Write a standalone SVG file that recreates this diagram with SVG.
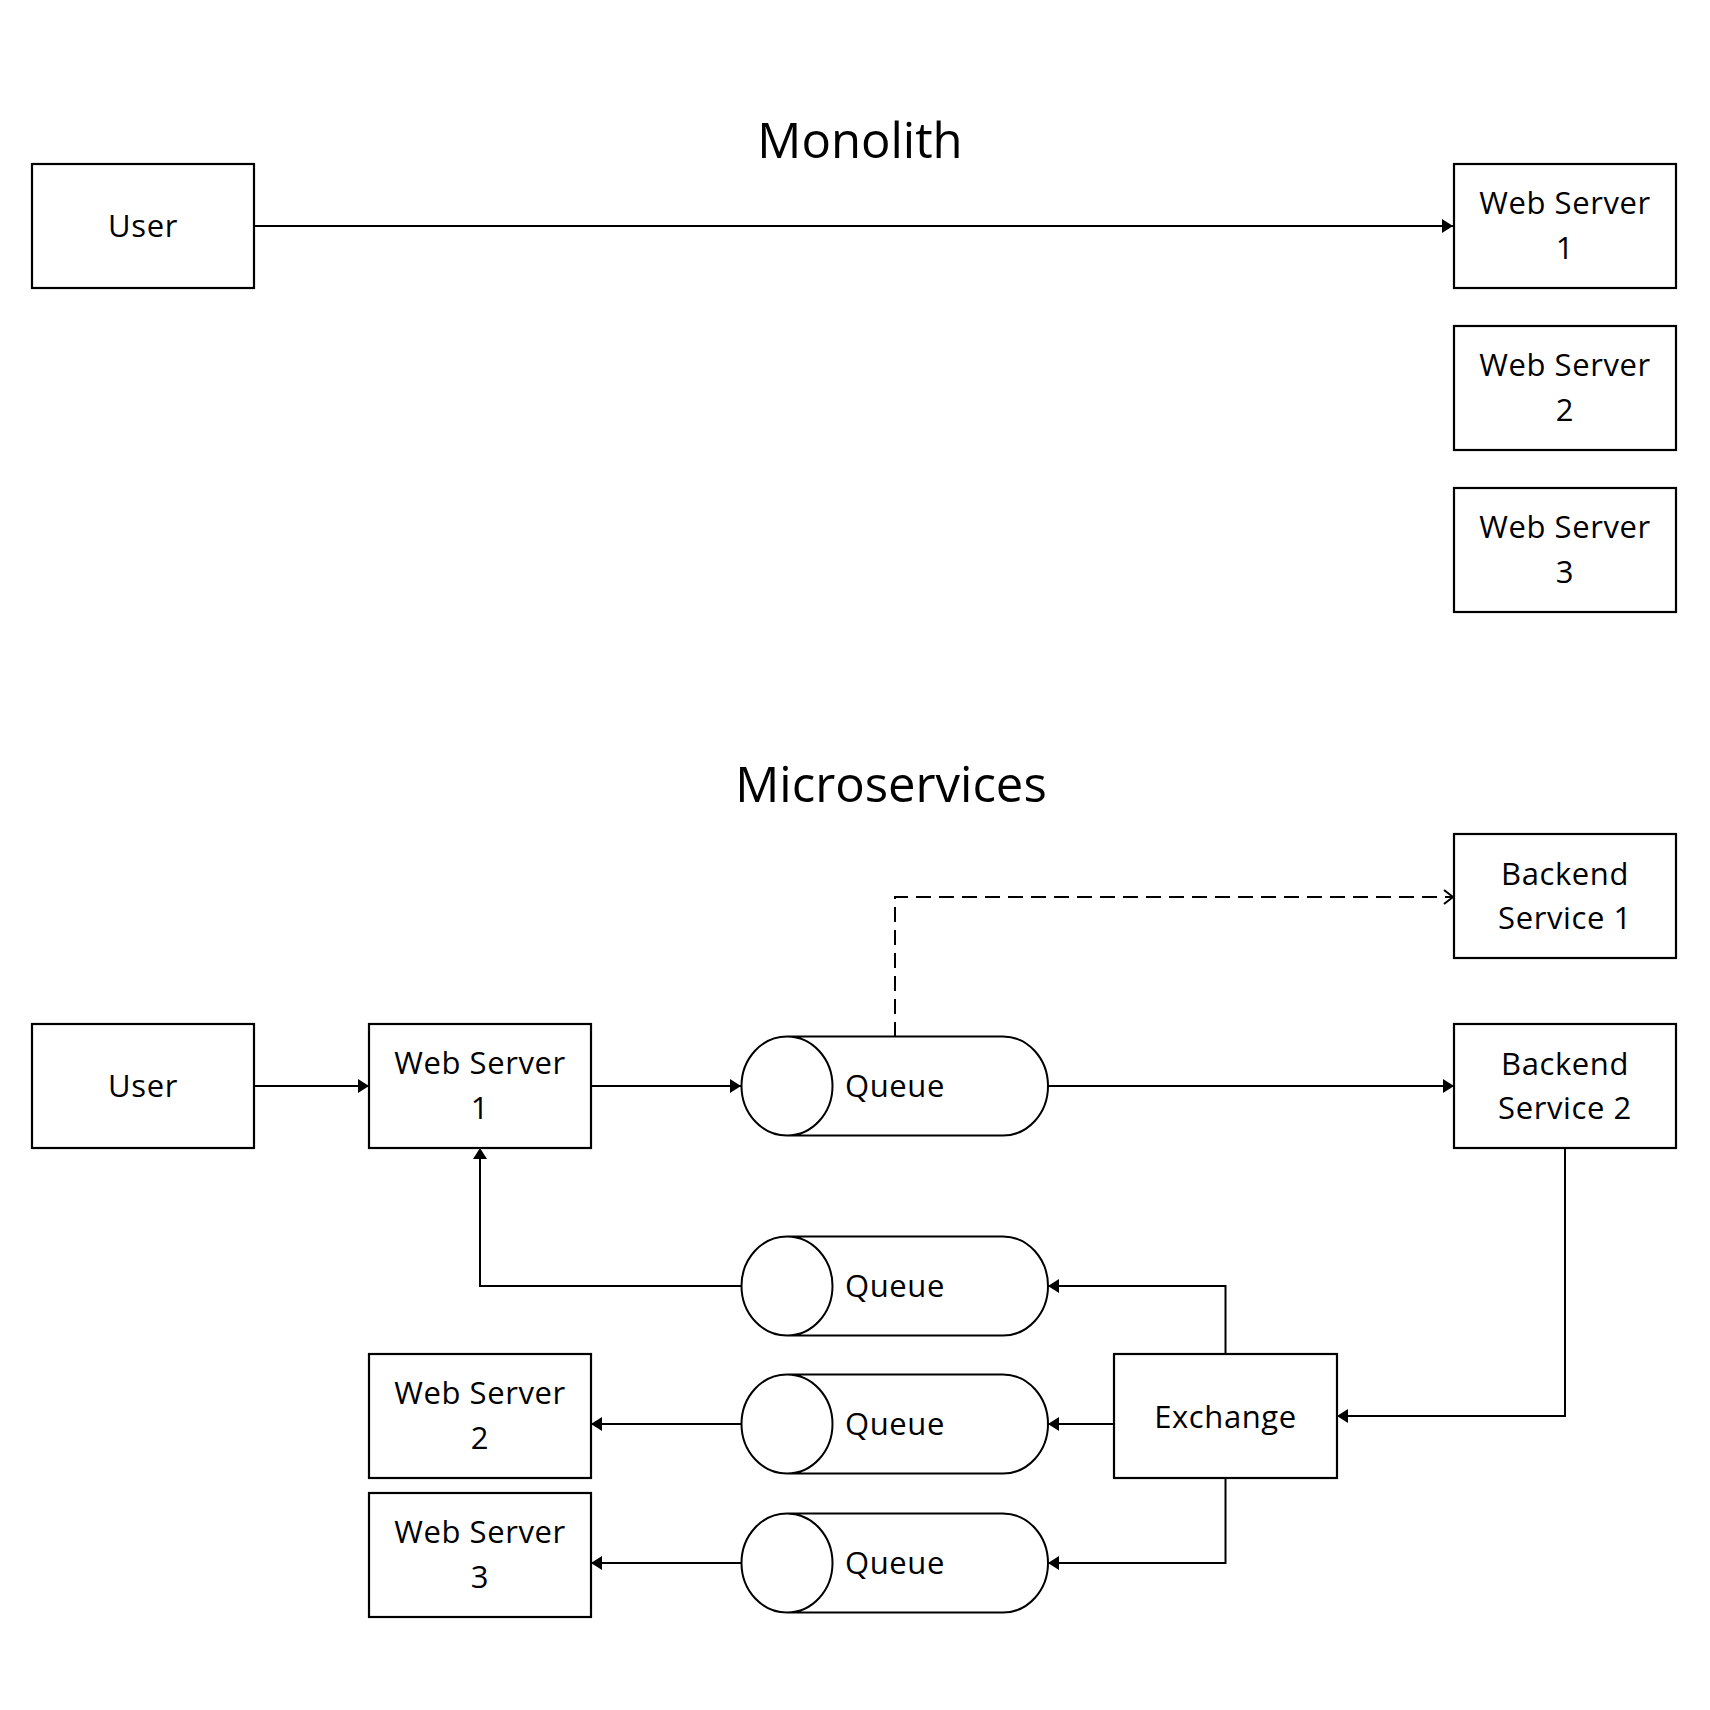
<svg xmlns="http://www.w3.org/2000/svg" width="1710" height="1710" viewBox="0 0 1710 1710">
<style>
.box{fill:#fff;stroke:#000;stroke-width:2.2}
.q{fill:#fff;stroke:#000;stroke-width:2}
.t{font-family:"Open Sans","Noto Sans",sans-serif;font-size:31px;letter-spacing:0.6px;fill:#000;text-anchor:middle}
.title{font-family:"Open Sans","Noto Sans",sans-serif;font-size:49px;fill:#000;text-anchor:middle}
.c{fill:none;stroke:#000;stroke-width:2}
.d{fill:none;stroke:#000;stroke-width:2;stroke-dasharray:15 8}
</style>
<defs>
<marker id="a" markerUnits="userSpaceOnUse" markerWidth="11" markerHeight="14" refX="11" refY="7" orient="auto">
<path d="M0,0 L11,7 L0,14 z" fill="#000"/>
</marker>
<marker id="o" markerUnits="userSpaceOnUse" markerWidth="12" markerHeight="16" refX="10" refY="8" orient="auto">
<path d="M1,1 L10,8 L1,15" fill="none" stroke="#000" stroke-width="2"/>
</marker>
<path id="queue" d="M787,0 L1003,0 A45,49.5 0 0 1 1003,99 L787,99 A45.5,49.5 0 0 1 787,0 Z M787,0 A45.5,49.5 0 0 1 787,99"/>
</defs>
<rect width="1710" height="1710" fill="#fff"/>

<text class="title" x="860" y="158">Monolith</text>
<text class="title" x="891" y="802">Microservices</text>

<g id="connectors">
<path class="c" d="M254,226 L1453,226" marker-end="url(#a)"/>
<path class="c" d="M254,1086 L369,1086" marker-end="url(#a)"/>
<path class="c" d="M591,1086 L741,1086" marker-end="url(#a)"/>
<path class="c" d="M1048,1086 L1454,1086" marker-end="url(#a)"/>
<path class="d" d="M895,1037 L895,897 L1453,897" marker-end="url(#o)"/>
<path class="c" d="M1565,1148 L1565,1416 L1337,1416" marker-end="url(#a)"/>
<path class="c" d="M1225.5,1354 L1225.5,1286 L1048,1286" marker-end="url(#a)"/>
<path class="c" d="M1114,1424 L1048,1424" marker-end="url(#a)"/>
<path class="c" d="M1225.5,1478 L1225.5,1563 L1048,1563" marker-end="url(#a)"/>
<path class="c" d="M741,1286 L480,1286 L480,1148" marker-end="url(#a)"/>
<path class="c" d="M741,1424 L591,1424" marker-end="url(#a)"/>
<path class="c" d="M741,1563 L591,1563" marker-end="url(#a)"/>
</g>

<g id="user-mono"><rect class="box" x="32" y="164" width="222" height="124"/><text class="t" x="143" y="237">User</text></g>
<g id="ws1-mono"><rect class="box" x="1454" y="164" width="222" height="124"/><text class="t" x="1565" y="214">Web Server</text><text class="t" x="1565" y="259">1</text></g>
<g id="ws2-mono"><rect class="box" x="1454" y="326" width="222" height="124"/><text class="t" x="1565" y="376">Web Server</text><text class="t" x="1565" y="421">2</text></g>
<g id="ws3-mono"><rect class="box" x="1454" y="488" width="222" height="124"/><text class="t" x="1565" y="538">Web Server</text><text class="t" x="1565" y="583">3</text></g>

<g id="bs1"><rect class="box" x="1454" y="834" width="222" height="124"/><text class="t" x="1565" y="885">Backend</text><text class="t" x="1565" y="929">Service 1</text></g>
<g id="bs2"><rect class="box" x="1454" y="1024" width="222" height="124"/><text class="t" x="1565" y="1075">Backend</text><text class="t" x="1565" y="1119">Service 2</text></g>
<g id="user-micro"><rect class="box" x="32" y="1024" width="222" height="124"/><text class="t" x="143" y="1097">User</text></g>
<g id="ws1-micro"><rect class="box" x="369" y="1024" width="222" height="124"/><text class="t" x="480" y="1074">Web Server</text><text class="t" x="480" y="1119">1</text></g>
<g id="ws2-micro"><rect class="box" x="369" y="1354" width="222" height="124"/><text class="t" x="480" y="1404">Web Server</text><text class="t" x="480" y="1449">2</text></g>
<g id="ws3-micro"><rect class="box" x="369" y="1493" width="222" height="124"/><text class="t" x="480" y="1543">Web Server</text><text class="t" x="480" y="1588">3</text></g>
<g id="exchange"><rect class="box" x="1114" y="1354" width="223" height="124"/><text class="t" x="1225.5" y="1428">Exchange</text></g>

<g id="queue1"><use href="#queue" class="q" y="1036.5"/><text class="t" x="895" y="1097">Queue</text></g>
<g id="queue2"><use href="#queue" class="q" y="1236.5"/><text class="t" x="895" y="1297">Queue</text></g>
<g id="queue3"><use href="#queue" class="q" y="1374.5"/><text class="t" x="895" y="1435">Queue</text></g>
<g id="queue4"><use href="#queue" class="q" y="1513.5"/><text class="t" x="895" y="1574">Queue</text></g>
</svg>
